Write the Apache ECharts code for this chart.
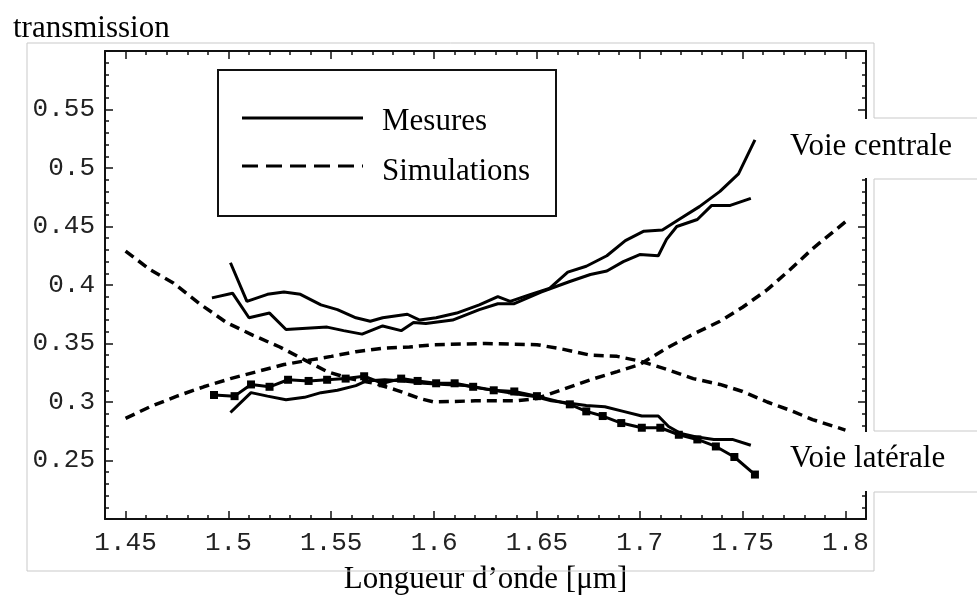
<!DOCTYPE html>
<html>
<head>
<meta charset="utf-8">
<script src="https://cdn.jsdelivr.net/npm/echarts@6/dist/echarts.min.js"></script>
<style>
html,body{margin:0;padding:0;background:#fff;}
#chart{width:977px;height:597px;}
</style>
</head>
<body>
<div id="chart"></div>
<script>
// ---- Data (wavelength in µm, transmission) ----
const xMajorTicks = [1.45, 1.5, 1.55, 1.6, 1.65, 1.7, 1.75, 1.8];
const yLabelTicks = [0.25, 0.3, 0.35, 0.4, 0.45, 0.5, 0.55];

const mesuresCentrale1 = [[1.501,0.419],[1.509,0.386],[1.519,0.392],[1.527,0.394],[1.535,0.392],[1.545,0.383],[1.553,0.379],[1.562,0.372],[1.569,0.369],[1.575,0.372],[1.587,0.375],[1.593,0.370],[1.601,0.372],[1.611,0.376],[1.622,0.383],[1.631,0.390],[1.637,0.386],[1.647,0.392],[1.656,0.397],[1.665,0.411],[1.674,0.416],[1.684,0.425],[1.693,0.438],[1.702,0.446],[1.711,0.447],[1.720,0.457],[1.729,0.467],[1.739,0.480],[1.748,0.495],[1.756,0.524]];
const mesuresCentrale2 = [[1.492,0.389],[1.502,0.393],[1.510,0.372],[1.520,0.376],[1.528,0.362],[1.538,0.363],[1.548,0.364],[1.556,0.361],[1.565,0.358],[1.575,0.365],[1.584,0.361],[1.590,0.368],[1.596,0.367],[1.609,0.370],[1.622,0.379],[1.631,0.384],[1.639,0.384],[1.652,0.394],[1.666,0.403],[1.676,0.409],[1.684,0.412],[1.692,0.420],[1.700,0.426],[1.709,0.425],[1.713,0.439],[1.718,0.450],[1.728,0.456],[1.735,0.468],[1.744,0.468],[1.754,0.474]];
const mesuresLaterale1 = [[1.493,0.306],[1.503,0.305],[1.511,0.315],[1.520,0.313],[1.529,0.319],[1.539,0.318],[1.548,0.319],[1.557,0.320],[1.566,0.322],[1.575,0.316],[1.584,0.320],[1.592,0.318],[1.601,0.316],[1.610,0.316],[1.619,0.313],[1.629,0.310],[1.639,0.309],[1.650,0.305],[1.666,0.298],[1.674,0.292],[1.682,0.288],[1.691,0.282],[1.701,0.278],[1.710,0.278],[1.719,0.272],[1.728,0.268],[1.737,0.262],[1.746,0.253],[1.756,0.238]];
const mesuresLaterale2 = [[1.501,0.291],[1.511,0.308],[1.519,0.305],[1.528,0.302],[1.537,0.304],[1.545,0.308],[1.553,0.310],[1.562,0.314],[1.567,0.318],[1.576,0.319],[1.585,0.318],[1.595,0.316],[1.605,0.315],[1.615,0.314],[1.625,0.311],[1.636,0.308],[1.648,0.305],[1.657,0.301],[1.666,0.299],[1.674,0.297],[1.683,0.296],[1.692,0.292],[1.701,0.288],[1.709,0.288],[1.714,0.279],[1.720,0.273],[1.728,0.270],[1.736,0.268],[1.745,0.268],[1.754,0.263]];
const simulationCentrale = [[1.450,0.429],[1.462,0.413],[1.473,0.402],[1.486,0.384],[1.499,0.368],[1.512,0.357],[1.525,0.347],[1.537,0.336],[1.548,0.326],[1.559,0.320],[1.571,0.316],[1.582,0.310],[1.593,0.303],[1.600,0.300],[1.620,0.301],[1.640,0.301],[1.650,0.303],[1.663,0.311],[1.676,0.319],[1.689,0.326],[1.700,0.332],[1.713,0.346],[1.726,0.358],[1.739,0.369],[1.750,0.381],[1.762,0.396],[1.773,0.413],[1.784,0.431],[1.800,0.454]];
const simulationLaterale = [[1.450,0.286],[1.462,0.296],[1.475,0.305],[1.488,0.313],[1.501,0.320],[1.514,0.326],[1.527,0.332],[1.540,0.336],[1.550,0.339],[1.562,0.343],[1.575,0.346],[1.588,0.347],[1.600,0.349],[1.625,0.350],[1.650,0.349],[1.663,0.345],[1.676,0.340],[1.689,0.339],[1.700,0.335],[1.713,0.328],[1.726,0.320],[1.739,0.315],[1.750,0.309],[1.762,0.300],[1.773,0.293],[1.784,0.285],[1.800,0.276]];

const serifFont = '"Liberation Serif", "Times New Roman", serif';
const monoFont = '"Liberation Mono", "Courier New", monospace';
const X_MIN = 1.44, X_MAX = 1.81, Y_MIN = 0.2, Y_MAX = 0.6;

function xAxisDef(pos, major, withLabel) {
  return {
    type: 'value', position: pos, min: X_MIN, max: X_MAX,
    interval: major ? undefined : 0.01,
    axisLine: { show: major, onZero: false, lineStyle: { color: '#111', width: 2 } },
    axisTick: major
      ? { show: true, inside: true, length: 8, customValues: xMajorTicks, lineStyle: { color: '#111', width: 1.5 } }
      : { show: true, inside: true, length: 4, lineStyle: { color: '#111', width: 1.5 } },
    axisLabel: withLabel
      ? { show: true, customValues: xMajorTicks, margin: 11, color: '#222', fontFamily: monoFont, fontSize: 26 }
      : { show: false },
    splitLine: { show: false }
  };
}
function yAxisDef(pos, withLabel) {
  return {
    type: 'value', position: pos, min: Y_MIN, max: Y_MAX, interval: 0.05,
    axisLine: { show: true, onZero: false, lineStyle: { color: '#111', width: 2 } },
    axisTick: { show: true, inside: true, length: 8, lineStyle: { color: '#111', width: 1.5 } },
    minorTick: { show: true, splitNumber: 5, length: 4, lineStyle: { color: '#111', width: 1.5 } },
    axisLabel: withLabel
      ? { show: true, customValues: yLabelTicks, margin: 10, color: '#222', fontFamily: monoFont, fontSize: 26 }
      : { show: false },
    splitLine: { show: false }, minorSplitLine: { show: false }
  };
}

function measured(name, data, withSquares) {
  return {
    type: 'line', name: name, data: data, xAxisIndex: 0, yAxisIndex: 0,
    showSymbol: !!withSquares, symbol: 'rect', symbolSize: 8,
    itemStyle: { color: '#000' },
    lineStyle: { color: '#000', width: 3 },
    silent: true, z: 3
  };
}
function simulated(name, data) {
  return {
    type: 'line', name: name, data: data, xAxisIndex: 0, yAxisIndex: 0,
    showSymbol: false,
    lineStyle: { color: '#000', width: 3.5, type: [10, 6] },
    silent: true, z: 3
  };
}

const chart = echarts.init(document.getElementById('chart'), null, { renderer: 'canvas' });
const GRAY = '#c9c9c9';
chart.setOption({
  animation: false,
  backgroundColor: '#fff',
  title: {
    text: 'transmission', left: 8, top: 8,
    textStyle: { fontFamily: serifFont, fontSize: 31, fontWeight: 'normal', color: '#000' }
  },
  grid: { left: 105, right: 111, top: 51, bottom: 78, containLabel: false, outerBoundsMode: 'none' },
  xAxis: [
    Object.assign(xAxisDef('bottom', true, true), {
      name: 'Longueur d’onde [μm]', nameLocation: 'middle', nameGap: 45,
      nameTextStyle: { fontFamily: serifFont, fontSize: 31, color: '#000' }
    }),
    xAxisDef('bottom', false, false),
    xAxisDef('top', true, false),
    xAxisDef('top', false, false)
  ],
  yAxis: [yAxisDef('left', true), yAxisDef('right', false)],
  series: [
    measured('Mesures voie centrale 1', mesuresCentrale1, false),
    measured('Mesures voie centrale 2', mesuresCentrale2, false),
    measured('Mesures voie latérale 1', mesuresLaterale1, true),
    measured('Mesures voie latérale 2', mesuresLaterale2, false),
    simulated('Simulation voie centrale', simulationCentrale),
    simulated('Simulation voie latérale', simulationLaterale)
  ],
  graphic: [
    // outer light frame
    { type: 'line', z: 50, shape: { x1: 27, y1: 43, x2: 874, y2: 43 }, style: { stroke: GRAY, lineWidth: 1 } },
    { type: 'line', z: 50, shape: { x1: 27, y1: 43, x2: 27, y2: 571 }, style: { stroke: GRAY, lineWidth: 1 } },
    { type: 'line', z: 50, shape: { x1: 27, y1: 571, x2: 874, y2: 571 }, style: { stroke: GRAY, lineWidth: 1 } },
    { type: 'line', z: 50, shape: { x1: 874, y1: 43, x2: 874, y2: 118 }, style: { stroke: GRAY, lineWidth: 1 } },
    { type: 'line', z: 50, shape: { x1: 874, y1: 179, x2: 874, y2: 431 }, style: { stroke: GRAY, lineWidth: 1 } },
    { type: 'line', z: 50, shape: { x1: 874, y1: 492, x2: 874, y2: 571 }, style: { stroke: GRAY, lineWidth: 1 } },
    // label boxes
    { type: 'rect', z: 60, shape: { x: 785, y: 119, width: 192, height: 59 }, style: { fill: '#fff' } },
    { type: 'line', z: 61, shape: { x1: 874, y1: 118, x2: 977, y2: 118 }, style: { stroke: GRAY, lineWidth: 1 } },
    { type: 'line', z: 61, shape: { x1: 874, y1: 179, x2: 977, y2: 179 }, style: { stroke: GRAY, lineWidth: 1 } },
    { type: 'text', z: 62, style: { x: 790, y: 147, text: 'Voie centrale', font: '31px ' + serifFont, fill: '#000', textAlign: 'left', textVerticalAlign: 'middle', verticalAlign: 'middle' } },
    { type: 'rect', z: 60, shape: { x: 785, y: 432, width: 192, height: 59 }, style: { fill: '#fff' } },
    { type: 'line', z: 61, shape: { x1: 874, y1: 431, x2: 977, y2: 431 }, style: { stroke: GRAY, lineWidth: 1 } },
    { type: 'line', z: 61, shape: { x1: 874, y1: 492, x2: 977, y2: 492 }, style: { stroke: GRAY, lineWidth: 1 } },
    { type: 'text', z: 62, style: { x: 790, y: 459, text: 'Voie latérale', font: '31px ' + serifFont, fill: '#000', textAlign: 'left', textVerticalAlign: 'middle', verticalAlign: 'middle' } },
    // legend
    { type: 'rect', z: 70, shape: { x: 218, y: 70, width: 338, height: 146 }, style: { fill: '#fff', stroke: '#111', lineWidth: 2 } },
    { type: 'line', z: 71, shape: { x1: 242, y1: 118, x2: 363, y2: 118 }, style: { stroke: '#000', lineWidth: 3 } },
    { type: 'line', z: 71, shape: { x1: 242, y1: 166, x2: 363, y2: 166 }, style: { stroke: '#000', lineWidth: 3, lineDash: [16, 8] } },
    { type: 'text', z: 72, style: { x: 382, y: 122, text: 'Mesures', font: '31px ' + serifFont, fill: '#000', textAlign: 'left', textVerticalAlign: 'middle', verticalAlign: 'middle' } },
    { type: 'text', z: 72, style: { x: 382, y: 172, text: 'Simulations', font: '31px ' + serifFont, fill: '#000', textAlign: 'left', textVerticalAlign: 'middle', verticalAlign: 'middle' } }
  ]
});
</script>
</body>
</html>
